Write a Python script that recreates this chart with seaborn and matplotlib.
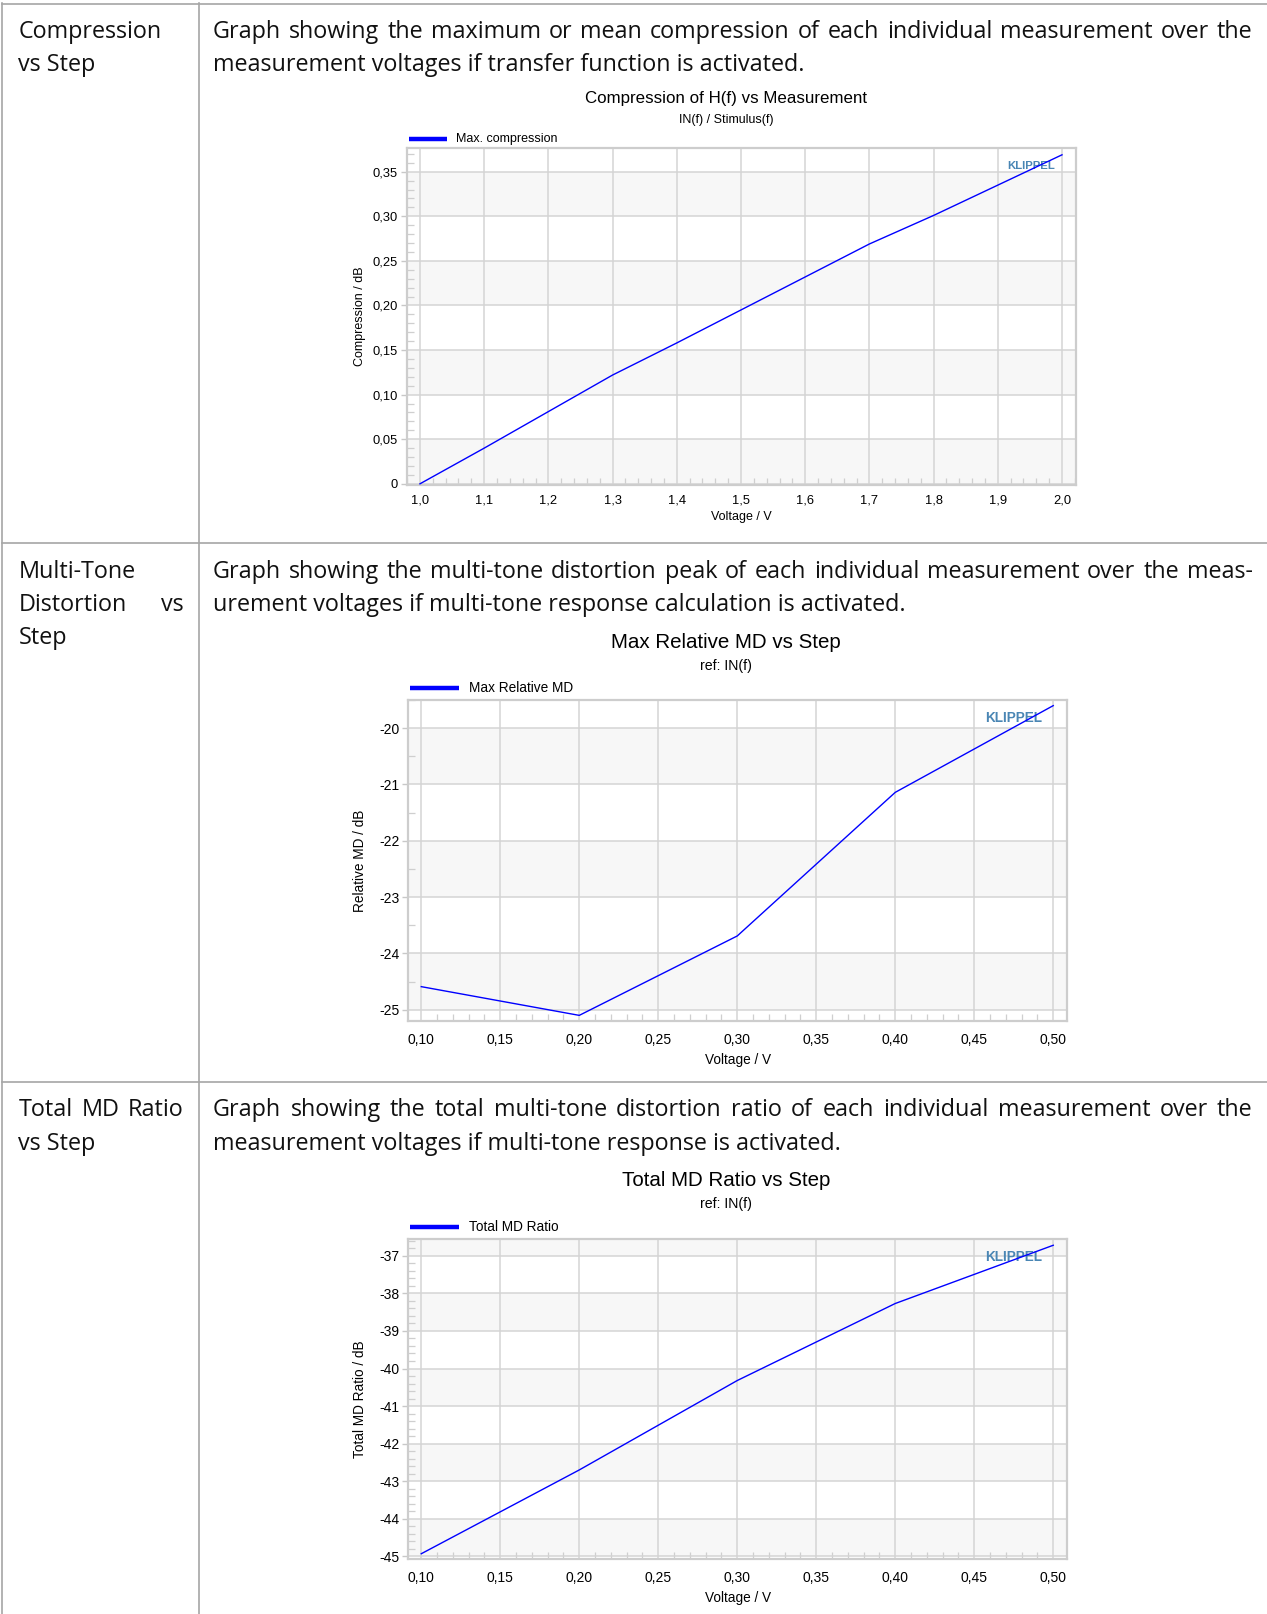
import numpy as np
import pandas as pd
import matplotlib
matplotlib.use('Agg')
import matplotlib.pyplot as plt
import seaborn as sns
from matplotlib import transforms
from matplotlib.lines import Line2D
from matplotlib.ticker import MultipleLocator, FuncFormatter

# ---- data ----
comp_voltage = [1.0, 1.1, 1.2, 1.3, 1.4, 1.5, 1.6, 1.7, 1.8, 1.9, 2.0]
comp_max = [0.0, 0.040, 0.081, 0.122, 0.158, 0.195, 0.232, 0.269, 0.301, 0.335, 0.369]

md_voltage = [0.10, 0.20, 0.30, 0.40, 0.50]
md_max_rel = [-24.59, -25.10, -23.69, -21.14, -19.60]
md_total_ratio = [-44.93, -42.70, -40.32, -38.27, -36.72]

# table text
row_titles = [["Compression", "vs Step"],
              ["Multi-Tone", "Distortion vs", "Step"],
              ["Total MD Ratio", "vs Step"]]
row_texts = [["Graph showing the maximum or mean compression of each individual measurement over the",
              "measurement voltages if transfer function is activated."],
             ["Graph showing the multi-tone distortion peak of each individual measurement over the meas-",
              "urement voltages if multi-tone response calculation is activated."],
             ["Graph showing the total multi-tone distortion ratio of each individual measurement over the",
              "measurement voltages if multi-tone response is activated."]]

W, H = 1267, 1614
fig = plt.figure(figsize=(W / 100, H / 100), dpi=100)
fig.patch.set_facecolor('white')
pix = transforms.Affine2D().scale(1, -1).translate(0, H)   # pixel coords, y down
renderer = fig.canvas.get_renderer()

BODY = ['Open Sans', 'DejaVu Sans']
CH = ['Liberation Sans', 'DejaVu Sans']
BORDER = '#a6a6a6'


def line(x0, y0, x1, y1, **kw):
    fig.add_artist(Line2D([x0, x1], [y0, y1], transform=pix, **kw))


def text_width(s, size):
    t = fig.text(0, 0, s, fontsize=size, family=BODY)
    w = t.get_window_extent(renderer).width
    t.remove()
    return w


body_size = 10 * 593 / text_width(row_texts[0][1], 10)


def paragraph(lines, x0, x1, y0, step=33):
    for i, ln in enumerate(lines):
        y = y0 + i * step
        words = ln.split()
        if i == len(lines) - 1 or len(words) == 1:
            fig.text(x0, y, ln, transform=pix, fontsize=body_size, family=BODY,
                     va='baseline', color='#111111')
            continue
        widths = [text_width(w, body_size) for w in words]
        gap = (x1 - x0 - sum(widths)) / (len(words) - 1)
        x = x0
        for w, wd in zip(words, widths):
            fig.text(x, y, w, transform=pix, fontsize=body_size, family=BODY,
                     va='baseline', color='#111111')
            x += wd + gap


# table grid
line(1.5, 3.5, W, 3.5, color=BORDER, lw=1.2)
line(1.5, 3, 1.5, H, color=BORDER, lw=1.2)
line(198.5, 3, 198.5, H, color=BORDER, lw=1.2)
line(1.5, 542.5, W, 542.5, color=BORDER, lw=1.2)
line(1.5, 1082, W, 1082, color=BORDER, lw=1.2)

baselines = [38, 578, 1116.5]
for titles, texts, yb in zip(row_titles, row_texts, baselines):
    paragraph(titles, 18.5, 183.5, yb)
    paragraph(texts, 213, 1252.5, yb)


def comma(fmt):
    return FuncFormatter(lambda v, p: '0' if abs(v) < 1e-9 else fmt.format(v).replace('.', ','))


def chart(box, df, ycol, xlim, ylim, xmaj, xmin, ymaj, ymin, xfmt, yfmt,
          title, subtitle, legend, ylabel, ty, sy, ly, sizes, logo):
    l, t, r, b = box
    ax = fig.add_axes([l / W, 1 - b / H, (r - l) / W, (b - t) / H])
    ax.set_xlim(xlim)
    ax.set_ylim(ylim)
    # alternating bands between major gridlines
    y = np.ceil(ylim[0] / ymaj - 1e-6) * ymaj
    while y < ylim[1]:
        ax.axhspan(y, y + ymaj, color='#f7f7f7', lw=0, zorder=0)
        y += 2 * ymaj
    sns.lineplot(data=df, x='voltage', y=ycol, ax=ax, color='#0000ff',
                 lw=1.0, legend=False, zorder=3)
    ax.set_axisbelow(True)
    ax.grid(True, which='major', color='#d4d4d4', lw=1.1)
    for s in ax.spines.values():
        s.set_color('#cdcdcd')
        s.set_linewidth(1.6)
    ax.xaxis.set_major_locator(MultipleLocator(xmaj))
    ax.xaxis.set_minor_locator(MultipleLocator(xmin))
    ax.yaxis.set_major_locator(MultipleLocator(ymaj))
    ax.yaxis.set_minor_locator(MultipleLocator(ymin))
    ax.xaxis.set_major_formatter(comma(xfmt))
    ax.yaxis.set_major_formatter(comma(yfmt))
    ts = sizes['tick']
    ax.tick_params(axis='x', which='major', length=0, pad=sizes['xpad'], labelsize=ts, labelcolor='black')
    ax.tick_params(axis='x', which='minor', direction='in', length=5, color='#cfcfcf', width=0.9)
    ax.tick_params(axis='y', which='major', direction='out', length=4.5, color='#c8c8c8',
                   width=1.0, pad=2, labelsize=ts, labelcolor='black')
    ax.tick_params(axis='y', which='minor', direction='in', length=5, color='#cfcfcf', width=0.9)
    for lab in ax.get_xticklabels() + ax.get_yticklabels():
        lab.set_family(CH)
    ax.set_xlabel('')
    ax.set_ylabel('')
    cx = 726
    fig.text(cx, ty, title, transform=pix, ha='center', va='center', fontsize=sizes['title'], family=CH)
    fig.text(cx, sy, subtitle, transform=pix, ha='center', va='center', fontsize=sizes['sub'], family=CH)
    line(l + 1.5, ly, l + sizes['leglen'], ly, color='#0000ff', lw=3.2, solid_capstyle='butt')
    fig.text(l + sizes['leglen'] + 9.5, ly, legend, transform=pix, va='center',
             fontsize=sizes['leg'], family=CH)
    fig.text((l + r) / 2, b + sizes['xlab_off'], 'Voltage / V', transform=pix, ha='center',
             va='center', fontsize=sizes['lab'], family=CH)
    fig.text(360, (t + b) / 2, ylabel, transform=pix, ha='center', va='center',
             rotation=90, fontsize=sizes['lab'], family=CH)
    ax.text(logo[0], logo[1], 'KLIPPEL', transform=ax.transAxes, ha='center', va='center',
            fontsize=sizes['logo'], fontweight='bold', color='#4a86b4', family=CH, zorder=2)
    return ax


small = dict(tick=9.3, title=12.2, sub=9, leg=9, lab=9, logo=8.2, leglen=40, xlab_off=32, xpad=7)
large = dict(tick=10, title=14.8, sub=10.2, leg=9.8, lab=9.8, logo=9.8, leglen=51, xlab_off=39, xpad=8.5)

comp_df = pd.DataFrame({'voltage': comp_voltage, 'max_compression': comp_max})
md_df = pd.DataFrame({'voltage': md_voltage, 'max_rel_md': md_max_rel,
                      'total_md_ratio': md_total_ratio})

chart((407, 148.3, 1075.5, 484.7), comp_df, 'max_compression',
      (0.9798, 2.021), (-0.001, 0.3763), 0.1, 0.02, 0.05, 0.01, '{:.1f}', '{:.2f}',
      'Compression of H(f) vs Measurement', 'IN(f) / Stimulus(f)', 'Max. compression',
      'Compression / dB', 98.7, 120.4, 139.3, small, (0.933, 0.948))

chart((408.3, 700, 1067.3, 1021), md_df, 'max_rel_md',
      (0.0918, 0.5089), (-25.2, -19.5), 0.05, 0.01, 1, 0.5, '{:.2f}', '{:.0f}',
      'Max Relative MD vs Step', 'ref: IN(f)', 'Max Relative MD',
      'Relative MD / dB', 642.2, 665.8, 688.3, large, (0.919, 0.943))

chart((408.3, 1238.5, 1067.3, 1559), md_df, 'total_md_ratio',
      (0.0918, 0.5089), (-45.07, -36.54), 0.05, 0.01, 1, 0.2, '{:.2f}', '{:.0f}',
      'Total MD Ratio vs Step', 'ref: IN(f)', 'Total MD Ratio',
      'Total MD Ratio / dB', 1180.4, 1204, 1226.7, large, (0.919, 0.942))

fig.savefig('out.png', dpi=100, facecolor='white')
